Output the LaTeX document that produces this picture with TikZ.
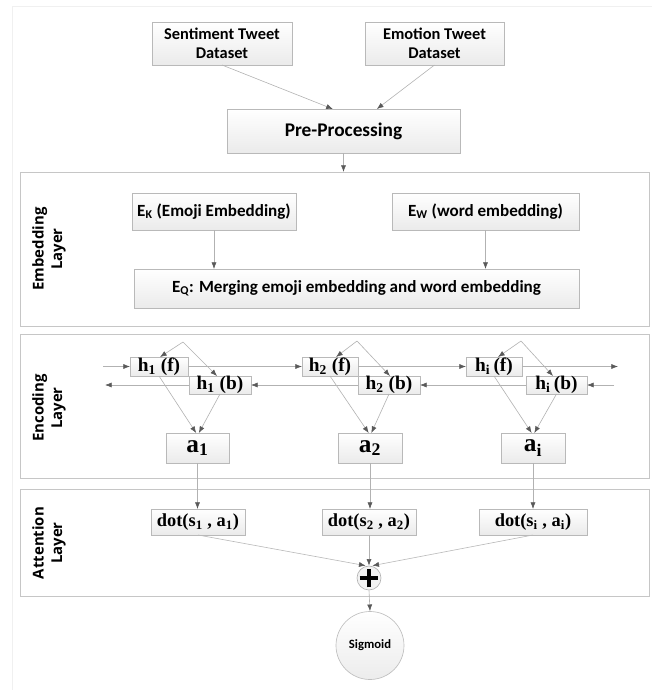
\documentclass[tikz,border=0pt]{standalone}
\usepackage{fontspec}
\setmainfont{Liberation Serif}
\newfontfamily\calib{Carlito}
\newfontfamily\opens{Open Sans}
\usetikzlibrary{arrows.meta,shadows}
\begin{document}
\begin{tikzpicture}[x=0.75pt,y=-0.75pt,
  tip/.style={-{Latex[length=5pt,width=3.8pt,color=gray!70!black]}},
  conn/.style={draw=gray!60, line width=0.45pt, tip},
  box/.style={draw=gray!55, line width=0.5pt, top color=white, bottom color=gray!16,
    inner sep=0pt, outer sep=0pt,
    drop shadow={shadow xshift=0.9pt, shadow yshift=-0.9pt, opacity=0.35, fill=gray}},
  layer/.style={draw=gray!45, line width=0.6pt, fill=white, inner sep=0pt, outer sep=0pt,
    minimum width=471.75pt},
  sansb/.style={font=\calib\bfseries\fontsize{12.3}{14.5}\selectfont, align=center},
  embtext/.style={font=\calib\bfseries\fontsize{12.8}{14.5}\selectfont},
  serb/.style={font=\bfseries\fontsize{14.5}{15}\selectfont},
  abox/.style={font=\bfseries\fontsize{19}{20}\selectfont},
  dbox/.style={font=\bfseries\fontsize{13.8}{15}\selectfont},
  labl/.style={font=\opens\bfseries\fontsize{11.2}{14}\selectfont, align=center, rotate=90}
]
\useasboundingbox (0,0) rectangle (652,690);
\draw[gray!12, line width=0.6pt] (652,6) -- (12,6) -- (12,690);

% layers
\node[layer, minimum height=115.5pt] (emb) at (334.5,249) {};
\node[layer, minimum height=108pt] (enc) at (334.5,406) {};
\node[layer, minimum height=80.25pt] (att) at (334.5,542.5) {};
\node[labl] (embl) at (49,249) {Embedding\\Layer};
\node[labl] (encl) at (49,408) {Encoding\\Layer};
\node[labl] (attl) at (49,543) {Attention\\Layer};

% top
\node[box, sansb, minimum width=105pt, minimum height=32.25pt] (sent) at (222,43.5) {Sentiment Tweet\\Dataset};
\node[box, sansb, minimum width=104.25pt, minimum height=32.25pt] (emo) at (434.5,43.5) {Emotion Tweet\\Dataset};
\node[box, font=\calib\bfseries\fontsize{14.5}{16}\selectfont, minimum width=174.75pt, minimum height=33pt] (pre) at (343.5,131) {Pre-Processing};
\draw[conn] (sent.south) -- ([xshift=-8pt]pre.north);
\draw[conn] (emo.south) -- ([xshift=25pt]pre.north);
\draw[conn] (pre.south) -- (pre.south |- emb.north);

% embedding
\node[box, embtext, minimum width=123pt, minimum height=27.75pt] (ek) at (214,211.5) {E\textsubscript{K} (Emoji Embedding)};
\node[box, embtext, minimum width=140.25pt, minimum height=27.75pt] (ew) at (485.5,211.5) {E\textsubscript{W} (word embedding)};
\node[box, embtext, minimum width=333.75pt, minimum height=29.25pt] (eq) at (356.5,288.5) {E\textsubscript{Q}: Merging emoji embedding and word embedding};
\draw[conn] (ek.south) -- (ek.south |- eq.north);
\draw[conn] (ew.south) -- (ew.south |- eq.north);

% encoding
\node[box, serb, minimum width=43.5pt, minimum height=14.25pt] (h1f) at (159,366.5) {h\textsubscript{1} (f)};
\node[box, serb, minimum width=46.5pt, minimum height=13.5pt] (h1b) at (220,385) {h\textsubscript{1} (b)};
\node[box, serb, minimum width=42pt, minimum height=14.25pt] (h2f) at (330,366.5) {h\textsubscript{2} (f)};
\node[box, serb, minimum width=46.5pt, minimum height=13.5pt] (h2b) at (389,385) {h\textsubscript{2} (b)};
\node[box, serb, minimum width=42pt, minimum height=14.25pt] (hif) at (494,366.5) {h\textsubscript{i}\,(f)};
\node[box, serb, minimum width=45.75pt, minimum height=13.5pt] (hib) at (556.5,385) {h\textsubscript{i}\,(b)};

\coordinate (fl) at (103,366.5);
\coordinate (fr) at (618,366.5);
\coordinate (br) at (614,385);
\coordinate (bl) at (105,385);
\draw[conn] (fl) -- (h1f.west);
\draw[conn] (h1f.east) -- (h2f.west);
\draw[conn] (h2f.east) -- (hif.west);
\draw[conn] (hif.east) -- (fr);
\draw[conn] (br) -- (hib.east);
\draw[conn] (hib.west) -- (h2b.east);
\draw[conn] (h2b.west) -- (h1b.east);
\draw[conn] (h1b.west) -- (bl);

\coordinate (p1) at (183,342);
\coordinate (p2) at (357,341);
\coordinate (pi) at (521,341);
\draw[conn] (p1) -- ([xshift=0.75pt]h1f.north);
\draw[conn] (p1) -- ([xshift=-2.25pt]h1b.north);
\draw[conn] (p2) -- ([xshift=4.5pt]h2f.north);
\draw[conn] (p2) -- ([xshift=0.75pt]h2b.north);
\draw[conn] (pi) -- ([xshift=3pt]hif.north);
\draw[conn] (pi) -- ([xshift=-2.6pt]hib.north);

\node[box, abox, minimum width=47.25pt, minimum height=22.5pt] (a1) at (197.5,448) {a\textsubscript{1}};
\node[box, abox, minimum width=48pt, minimum height=22.5pt] (a2) at (370,448) {a\textsubscript{2}};
\node[box, abox, minimum width=48pt, minimum height=22.5pt] (ai) at (533,448) {a\textsubscript{i}};

\foreach \f/\b/\a in {h1f/h1b/a1, h2f/h2b/a2, hif/hib/ai}{
  \draw[conn] (\f.south) -- ([xshift=-1pt]\a.north);
  \draw[conn] (\b.south) -- ([xshift=1pt]\a.north);
}

% attention
\node[box, dbox, minimum width=70.5pt, minimum height=19.5pt] (d1) at (198,522) {dot(s\textsubscript{1} , a\textsubscript{1})};
\node[box, dbox, minimum width=70.5pt, minimum height=19.5pt] (d2) at (369,522) {dot(s\textsubscript{2} , a\textsubscript{2})};
\node[box, dbox, minimum width=81pt, minimum height=19.5pt] (di) at (533,522) {dot(s\textsubscript{i} , a\textsubscript{i})};
\draw[conn] (a1.south) -- (a1.south |- d1.north);
\draw[conn] (a2.south) -- (a2.south |- d2.north);
\draw[conn] (ai.south) -- (ai.south |- di.north);

\node[circle, draw=gray!60, line width=0.5pt, fill=gray!10, minimum size=18pt, inner sep=0pt] (plus) at (369,578) {};
\draw[line width=2.3pt, black] ([xshift=-7pt]plus.center) -- ([xshift=7pt]plus.center);
\draw[line width=2.3pt, black] ([yshift=-7pt]plus.center) -- ([yshift=7pt]plus.center);
\draw[conn, gray!55] (d1.south) -- ([xshift=-2.5pt]plus.north);
\draw[conn] (d2.south) -- (plus.north);
\draw[conn, gray!55] (di.south) -- ([xshift=2.5pt]plus.north);

\node[circle, draw=gray!50, line width=0.5pt, top color=white, bottom color=gray!15, minimum size=51pt, inner sep=0pt,
  font=\calib\bfseries\fontsize{9.5}{11}\selectfont] (sig) at (370,645.5) {Sigmoid};
\draw[conn] (plus.south) -- (sig.north);
\end{tikzpicture}
\end{document}
